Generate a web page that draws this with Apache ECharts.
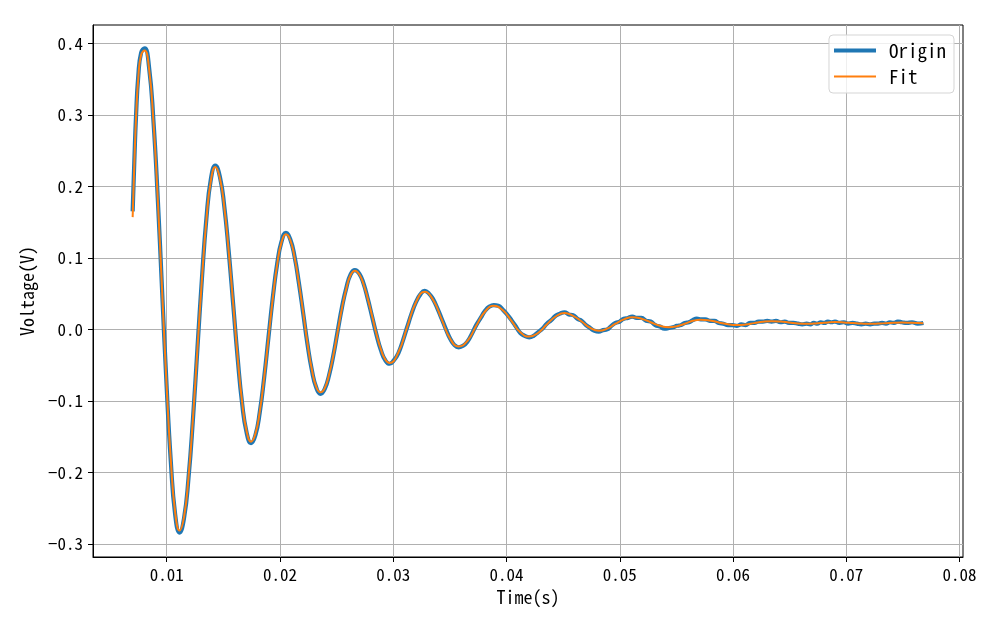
<!DOCTYPE html>
<html>
<head>
<meta charset="utf-8">
<script src="https://cdn.jsdelivr.net/npm/echarts@6/dist/echarts.min.js"></script>
<style>html,body{margin:0;padding:0;background:#fff;}#c{width:1000px;height:625px;}</style>
</head>
<body>
<div id="c"></div>
<script>
const xTicks = [0.01, 0.02, 0.03, 0.04, 0.05, 0.06, 0.07, 0.08];
const yTicks = [-0.3, -0.2, -0.1, 0.0, 0.1, 0.2, 0.3, 0.4];
const seriesNames = ['Origin', 'Fit'];

const timeFit = [
0.00700,0.00715,0.00730,0.00750,0.00775,0.00806,
0.008445,0.00883,0.009215,0.0096,0.009985,0.01037,0.010755,0.01114,
0.011535,0.01193,0.012325,0.01272,0.013115,0.01351,0.013905,0.0143,
0.014694,0.01509,0.015481,0.01588,0.016269,0.01666,0.017056,0.01745,
0.017835,0.01822,0.018605,0.01899,0.019375,0.01976,0.020145,0.02053,
0.020911,0.02129,0.021673,0.02206,0.022436,0.02282,0.023199,0.02358,
0.02396,0.02434,0.02472,0.0251,0.02548,0.02586,0.02624,0.02662,
0.027003,0.027385,0.027768,0.02815,0.028533,0.028915,0.029298,0.02968,
0.03046,0.03123,0.03201,0.03278,0.03353,0.03428,0.03503,0.03578,
0.03656,0.03733,0.03811,0.03888,0.03966,0.04044,0.04122,0.04200,
0.04278,0.04356,0.04434,0.04512,0.04588,0.04664,0.04739,0.04815,
0.04889,0.04963,0.05036,0.05110,0.05191,0.05273,0.05354,0.05435,
0.05505,0.05575,0.05645,0.05715,0.05795,0.05875,0.05955,0.06035,
0.06111,0.06188,0.06264,0.06340,0.06418,0.06495,0.06573,0.06650,
0.06713,0.06775,0.06838,0.06900,0.06978,0.07055,0.07133,0.07210,
0.07280,0.07350,0.07420,0.07490,0.07580,0.07680
];
const voltFit = [
0.157,0.232,0.296,0.352,0.384,0.390,
0.365,0.292,0.183,0.0545,-0.074,-0.183,-0.256,-0.281,
-0.262,-0.207,-0.124,-0.027,0.070,0.153,0.208,0.227,
0.212,0.171,0.109,0.035,-0.039,-0.101,-0.142,-0.157,
-0.146,-0.115,-0.068,-0.012,0.044,0.091,0.122,0.133,
0.125,0.101,0.065,0.023,-0.020,-0.056,-0.080,-0.088,
-0.082,-0.063,-0.036,-0.003,0.030,0.057,0.076,0.082,
0.077,0.063,0.042,0.018,-0.007,-0.028,-0.042,-0.047,
-0.032,0.003,0.038,0.0525,0.041,0.014,-0.013,-0.024,
-0.016,0.005,0.025,0.033,0.027,0.012,-0.004,-0.010,
-0.005,0.007,0.018,0.023,0.019,0.011,0.002,-0.002,
0.001,0.008,0.014,0.017,0.015,0.010,0.005,0.003,
0.0045,0.008,0.012,0.0135,0.0124,0.0098,0.0071,0.006,
0.0068,0.0088,0.0107,0.0115,0.0110,0.0097,0.0083,0.0078,
0.0082,0.0090,0.0098,0.0102,0.0098,0.0090,0.0082,0.0078,
0.0081,0.0087,0.0093,0.0096,0.0092,0.0087
];

const timeOrigin = [
0.00700,0.00715,0.00730,0.00750,0.00775,0.00806,
0.008445,0.00883,0.009215,0.0096,0.009985,0.01037,0.010755,0.01114,
0.011535,0.01193,0.012325,0.01272,0.013115,0.01351,0.013905,0.0143,
0.014694,0.01509,0.015481,0.01588,0.016269,0.01666,0.017056,0.01745,
0.017835,0.01822,0.018605,0.01899,0.019375,0.01976,0.020145,0.02053,
0.020911,0.02129,0.021673,0.02206,0.022436,0.02282,0.023199,0.02358,
0.02396,0.02434,0.02472,0.0251,0.02548,0.02586,0.02624,0.02662,
0.027003,0.027385,0.027768,0.02815,0.028533,0.028915,0.029298,0.02968,
0.03007,0.03046,0.03085,0.03123,0.03162,0.03201,0.03240,0.03278,
0.03316,0.03353,0.03391,0.03428,0.03466,0.03503,0.03541,0.03578,
0.03617,0.03656,0.03695,0.03733,0.03772,0.03811,0.03850,0.03888,
0.03927,0.03966,0.04005,0.04044,0.04083,0.04122,0.04161,0.04200,
0.04239,0.04278,0.04317,0.04356,0.04395,0.04434,0.04473,0.04512,
0.04550,0.04588,0.04626,0.04664,0.04702,0.04739,0.04777,0.04815,
0.04852,0.04889,0.04926,0.04963,0.05000,0.05036,0.05073,0.05110,
0.05150,0.05191,0.05232,0.05273,0.05314,0.05354,0.05395,0.05435,
0.05470,0.05505,0.05540,0.05575,0.05610,0.05645,0.05680,0.05715,
0.05755,0.05795,0.05835,0.05875,0.05915,0.05955,0.05995,0.06035,
0.06073,0.06111,0.06150,0.06188,0.06226,0.06264,0.06302,0.06340,
0.06379,0.06418,0.06456,0.06495,0.06534,0.06573,0.06611,0.06650,
0.06682,0.06713,0.06744,0.06775,0.06806,0.06838,0.06869,0.06900,
0.06939,0.06978,0.07016,0.07055,0.07094,0.07133,0.07171,0.07210,
0.07245,0.07280,0.07315,0.07350,0.07385,0.07420,0.07455,0.07490,
0.07535,0.07580,0.07630,0.07680
];
const voltOrigin = [
0.165,0.236,0.299,0.355,0.387,0.393,
0.367,0.293,0.184,0.054,-0.075,-0.185,-0.259,-0.284,
-0.264,-0.208,-0.125,-0.026,0.071,0.155,0.210,0.229,
0.214,0.172,0.109,0.034,-0.040,-0.103,-0.144,-0.159,
-0.148,-0.116,-0.068,-0.011,0.045,0.092,0.123,0.135,
0.126,0.102,0.065,0.022,-0.021,-0.057,-0.081,-0.090,
-0.083,-0.064,-0.036,-0.002,0.031,0.058,0.077,0.083,
0.078,0.064,0.042,0.017,-0.008,-0.029,-0.043,-0.048,
-0.043,-0.033,-0.016,0.003,0.022,0.038,0.049,0.054,
0.050,0.042,0.029,0.015,0.000,-0.013,-0.022,-0.025,
-0.023,-0.017,-0.006,0.006,0.016,0.026,0.032,0.034,
0.033,0.028,0.021,0.013,0.004,-0.005,-0.009,-0.011,
-0.009,-0.004,0.001,0.008,0.013,0.019,0.022,0.024,
0.021,0.020,0.015,0.012,0.006,0.002,-0.002,-0.003,
-0.001,0.000,0.005,0.009,0.011,0.015,0.016,0.018,
0.016,0.016,0.012,0.011,0.006,0.004,0.001,0.002,
0.003,0.005,0.006,0.009,0.010,0.013,0.015,0.014,
0.014,0.012,0.012,0.009,0.008,0.006,0.006,0.005,
0.007,0.006,0.009,0.009,0.011,0.011,0.012,0.011,
0.012,0.010,0.011,0.009,0.009,0.008,0.007,0.008,
0.007,0.009,0.008,0.010,0.009,0.011,0.010,0.011,
0.009,0.010,0.008,0.009,0.008,0.007,0.008,0.007,
0.008,0.008,0.009,0.008,0.010,0.009,0.011,0.010,
0.009,0.010,0.008,0.009
];

const FONT = "'Noto Sans Mono CJK SC', 'DejaVu Sans Mono', monospace";
const originData = timeOrigin.map((t, i) => [t, voltOrigin[i]]);
const fitData = timeFit.map((t, i) => [t, voltFit[i]]);

const chart = echarts.init(document.getElementById('c'), null, {renderer: 'canvas'});
chart.setOption({
  animation: false,
  backgroundColor: '#fff',
  grid: {left: 93, top: 25, right: 37, bottom: 68, containLabel: false,
         show: true, borderColor: '#000', borderWidth: 1, backgroundColor: 'transparent'},
  legend: {
    orient: 'vertical', right: 46, top: 35,
    itemWidth: 42, itemHeight: 16, itemGap: 7,
    padding: [6, 8, 7, 5],
    borderColor: '#d5d5d5', borderWidth: 1, borderRadius: 4,
    backgroundColor: 'rgba(255,255,255,0.8)',
    symbolKeepAspect: true,
    textStyle: {fontFamily: FONT, fontSize: 19, color: '#000', padding: [0, 0, 0, 8]},
    data: [
      {name: seriesNames[0], icon: 'path://M0,0H42V4H0Z', itemStyle: {color: '#1f77b4'}},
      {name: seriesNames[1], icon: 'path://M0,0H42V2H0Z', itemStyle: {color: '#ff7f0e'}}
    ]
  },
  xAxis: {
    type: 'value', min: 0.0035, max: 0.0803,
    name: 'Time(s)', nameLocation: 'middle', nameGap: 28,
    nameTextStyle: {fontFamily: FONT, fontSize: 18, color: '#000'},
    axisLine: {show: true, onZero: false, lineStyle: {color: '#000', width: 1}},
    axisTick: {show: true, inside: false, length: 5, lineStyle: {color: '#000'}, customValues: xTicks},
    axisLabel: {customValues: xTicks, margin: 9, fontFamily: FONT, fontSize: 17, color: '#000',
                formatter: v => v.toFixed(2)},
    splitLine: {show: true, lineStyle: {color: '#b0b0b0', width: 1}}
  },
  yAxis: {
    type: 'value', min: -0.3182, max: 0.4256,
    name: 'Voltage(V)', nameLocation: 'middle', nameGap: 57, nameRotate: 90,
    nameTextStyle: {fontFamily: FONT, fontSize: 18, color: '#000'},
    axisLine: {show: true, onZero: false, lineStyle: {color: '#000', width: 1}},
    axisTick: {show: true, inside: false, length: 5, lineStyle: {color: '#000'}, customValues: yTicks},
    axisLabel: {customValues: yTicks, margin: 10, fontFamily: FONT, fontSize: 17, color: '#000',
                formatter: v => v.toFixed(1).replace('-', '\u2212')},
    splitLine: {show: true, lineStyle: {color: '#b0b0b0', width: 1}}
  },
  series: [
    {name: seriesNames[0], type: 'line', data: originData, symbol: 'none', smooth: 0.5,
     lineStyle: {color: '#1f77b4', width: 4.2}, itemStyle: {color: '#1f77b4'}, z: 2},
    {name: seriesNames[1], type: 'line', data: fitData, symbol: 'none', smooth: 0.5,
     lineStyle: {color: '#ff7f0e', width: 2}, itemStyle: {color: '#ff7f0e'}, z: 3}
  ]
});
</script>
</body>
</html>
